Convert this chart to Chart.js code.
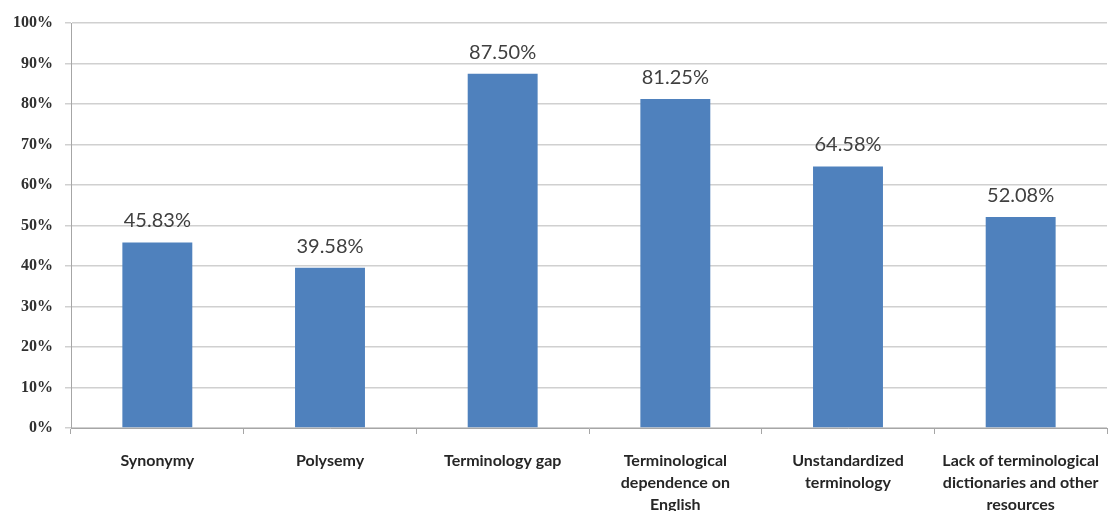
<!DOCTYPE html>
<html>
<head>
<meta charset="utf-8">
<script src="https://cdn.jsdelivr.net/npm/chart.js@4.4.1/dist/chart.umd.min.js"></script>
<style>
  html, body { margin: 0; padding: 0; background: #fff; }
  #wrap { width: 1110px; height: 511px; }
</style>
</head>
<body>
<div id="wrap"><canvas id="myChart"></canvas></div>
<script>
const categories = [
  'Synonymy',
  'Polysemy',
  'Terminology gap',
  ['Terminological', 'dependence on', 'English'],
  ['Unstandardized', 'terminology'],
  ['Lack of terminological', 'dictionaries and other', 'resources']
];
const values = [45.83, 39.58, 87.50, 81.25, 64.58, 52.08];
const yTicks = [0, 10, 20, 30, 40, 50, 60, 70, 80, 90, 100];

// draws the value above each bar
const valueLabels = {
  id: 'valueLabels',
  afterDatasetsDraw(chart) {
    const c = chart.ctx;
    const meta = chart.getDatasetMeta(0);
    c.save();
    c.font = '20px Lato, "Open Sans", sans-serif';
    c.fillStyle = '#404040';
    c.textAlign = 'center';
    c.textBaseline = 'alphabetic';
    meta.data.forEach(function(bar, i) {
      c.fillText(values[i].toFixed(2) + '%', bar.x, bar.y - 15);
    });
    c.restore();
  }
};

const ctx = document.getElementById('myChart');
new Chart(ctx, {
  type: 'bar',
  data: {
    labels: categories,
    datasets: [{
      data: values,
      backgroundColor: '#4F81BD',
      barPercentage: 0.81,
      categoryPercentage: 0.5
    }]
  },
  plugins: [valueLabels],
  options: {
    responsive: true,
    maintainAspectRatio: false,
    animation: false,
    layout: { padding: { top: 23, right: 3, left: 0, bottom: 0 } },
    plugins: {
      legend: { display: false },
      tooltip: { enabled: false }
    },
    scales: {
      x: {
        grid: {
          offset: true,
          drawOnChartArea: false,
          drawTicks: true,
          tickLength: 6,
          color: '#a6a6a6'
        },
        border: { color: '#a6a6a6', width: 1 },
        ticks: {
          maxRotation: 0,
          autoSkip: false,
          padding: 16,
          color: '#262626',
          font: { family: 'Lato, "Open Sans", sans-serif', size: 16, weight: 'bold', lineHeight: 1.375 }
        },
        afterFit(scale) {
          scale.height = 83;
          scale.paddingLeft = 0;
          scale.paddingRight = 0;
        }
      },
      y: {
        min: 0,
        max: 100,
        afterBuildTicks(scale) {
          scale.ticks = yTicks.map(v => ({ value: v }));
        },
        grid: {
          color: '#d0d0d0',
          lineWidth: 1.5,
          tickLength: 6
        },
        border: { color: '#a6a6a6', width: 1 },
        ticks: {
          padding: 12,
          color: '#303030',
          font: { family: '"Liberation Serif", serif', size: 16, weight: 'bold' },
          callback: v => v + '%'
        },
        afterFit(scale) { scale.width = 71; }
      }
    }
  }
});
</script>
</body>
</html>
